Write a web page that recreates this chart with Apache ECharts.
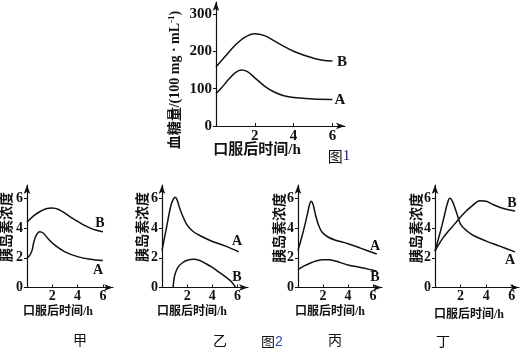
<!DOCTYPE html>
<html>
<head>
<meta charset="utf-8">
<script src="https://cdn.jsdelivr.net/npm/echarts@6.0.0/dist/echarts.min.js"></script>
<style>
  html, body { margin: 0; padding: 0; background: #fff; }
  #chart { width: 520px; height: 348px; }
</style>
</head>
<body>
<div id="chart"></div>
<script>
// 图1: blood glucose after oral glucose, [hours, 100 mg/mL]
const glucoseA = [[0,87],[0.3,103],[0.65,125],[1,143],[1.3,150],[1.6,146],[2,129],[2.5,107],[3,91],[3.5,81],[4,76],[5,72],[6,71]];
const glucoseB = [[0,158],[0.5,188],[1,217],[1.5,238],[2,247],[2.5,242],[3,228],[3.5,213],[4,200],[4.5,190],[5,182],[5.5,176],[6,174]];

// 图2: insulin concentration, four cases
const jiaA  = [[0,2.0],[0.2,2.15],[0.4,2.5],[0.55,3.1],[0.75,3.55],[1.0,3.75],[1.3,3.65],[1.7,3.25],[2.2,2.85],[3,2.4],[4,2.08],[5,1.9],[6,1.82]];
const jiaB  = [[0,4.4],[0.5,4.8],[1,5.1],[1.5,5.3],[2,5.35],[2.5,5.25],[3,5.0],[3.5,4.7],[4,4.45],[4.5,4.2],[5,4.0],[5.5,3.85],[6,3.75]];
const yiA   = [[0,2.5],[0.35,4.0],[0.7,5.5],[0.9,5.95],[1.05,6.08],[1.2,5.9],[1.4,5.35],[1.6,4.9],[2,4.2],[2.5,3.75],[3,3.5],[4,3.1],[5,2.8],[6.1,2.4]];
const yiB   = [[0.88,0],[0.95,0.55],[1.05,0.95],[1.3,1.4],[1.6,1.65],[2,1.83],[2.5,1.9],[3,1.82],[3.5,1.6],[4,1.35],[4.5,1.05],[5,0.75],[5.5,0.4],[5.85,0]];
const bingA = [[0,2.5],[0.4,3.7],[0.7,4.75],[0.9,5.5],[1.05,5.8],[1.2,5.6],[1.4,4.9],[1.6,4.3],[1.9,3.75],[2.4,3.4],[3,3.18],[4,2.95],[5,2.65],[6.3,2.25]];
const bingB = [[0,1.2],[0.5,1.45],[1,1.65],[1.5,1.8],[2,1.87],[2.5,1.87],[3,1.78],[4,1.52],[5,1.35],[5.7,1.22],[6.3,1.1]];
const dingA = [[0,2.45],[0.4,3.7],[0.75,4.9],[0.95,5.6],[1.15,6.0],[1.3,5.9],[1.5,5.5],[1.7,5.0],[2,4.25],[2.5,3.8],[3,3.5],[4,3.12],[5,2.8],[6.25,2.4]];
const dingB = [[0,2.45],[0.3,2.9],[0.65,3.37],[1,3.75],[1.3,4.04],[1.7,4.45],[2.1,4.85],[2.5,5.2],[2.9,5.5],[3.5,5.84],[4,5.8],[4.5,5.6],[5,5.42],[5.5,5.28],[6.25,5.15]];

const glucoseTicks = [0, 100, 200, 300];
const insulinTicks = [0, 2, 4, 6];
const timeTicks = [2, 4, 6];

const SERIF = '"Liberation Serif", "Times New Roman", "Noto Sans CJK SC", serif';
const INK = '#111';

// panel boxes: left/top/width/height in px, and axis extents
const panels = [
  { left: 216, top: 2,   width: 129, height: 124, xMax: 6.65, yMax: 332, ticks: glucoseTicks, data: [glucoseA, glucoseB] },
  { left: 27,  top: 185, width: 86,  height: 102.5, xMax: 6.8,  yMax: 6.9, ticks: insulinTicks, data: [jiaA, jiaB] },
  { left: 162, top: 185, width: 86,  height: 102.5, xMax: 6.83, yMax: 6.9, ticks: insulinTicks, data: [yiA, yiB] },
  { left: 298, top: 185, width: 84,  height: 102.5, xMax: 6.72, yMax: 6.9, ticks: insulinTicks, data: [bingA, bingB] },
  { left: 435, top: 185, width: 84,  height: 102.5, xMax: 6.56, yMax: 6.9, ticks: insulinTicks, data: [dingA, dingB] }
];

const axisLine = { show: true, symbol: ['none', 'arrow'], symbolSize: [5, 9], lineStyle: { color: INK, width: 1.2 } };

const grid = [], xAxis = [], yAxis = [], series = [];
panels.forEach((p, i) => {
  const tickFont = i === 0 ? 15 : 14;
  grid.push({ left: p.left, top: p.top, width: p.width, height: p.height, containLabel: false, outerBoundsMode: 'none' });
  xAxis.push({
    type: 'value', gridIndex: i, min: 0, max: p.xMax,
    axisLine: axisLine,
    axisTick: { show: true, inside: true, length: 3, customValues: timeTicks, lineStyle: { color: INK } },
    axisLabel: { customValues: timeTicks, margin: i === 0 ? 3 : 2, color: INK, fontFamily: SERIF, fontWeight: 'bold', fontSize: tickFont },
    splitLine: { show: false }
  });
  yAxis.push({
    type: 'value', gridIndex: i, min: 0, max: p.yMax,
    axisLine: axisLine,
    axisTick: { show: true, inside: false, length: 3, customValues: p.ticks, lineStyle: { color: INK } },
    axisLabel: { customValues: p.ticks, margin: 4, color: INK, fontFamily: SERIF, fontWeight: 'bold', fontSize: tickFont },
    splitLine: { show: false }
  });
  p.data.forEach(d => {
    series.push({
      type: 'line', xAxisIndex: i, yAxisIndex: i, data: d,
      smooth: 0.35, symbol: 'none', silent: true,
      lineStyle: { color: INK, width: 1.5 }
    });
  });
});

function txt(x, y, text, size, opts) {
  return Object.assign({
    type: 'text', x: x, y: y, silent: true,
    style: Object.assign({ text: text, x: 0, y: 0, align: 'center', verticalAlign: 'middle',
      fill: INK, fontSize: size, fontFamily: SERIF }, (opts && opts.style) || {})
  }, (opts && opts.el) || {});
}

const boldStyle = { style: { fontWeight: 'bold' } };
const vName = { el: { rotation: Math.PI / 2 }, style: { fontWeight: 'bold' } };

const graphic = [
  // axis titles
  txt(175, 80, '血糖量/(100 mg · mL{s|-1})', 14, { el: { rotation: Math.PI / 2 }, style: { fontWeight: 'bold', rich: { s: { fontSize: 9, fontFamily: SERIF, fontWeight: 'bold', padding: [0, 0, 7, 0] } } } }),
  txt(257, 150, '口服后时间/h', 15, boldStyle),
  txt(7, 227, '胰岛素浓度', 14, vName),
  txt(143, 227, '胰岛素浓度', 14, vName),
  txt(280, 228, '胰岛素浓度', 14, vName),
  txt(417, 228, '胰岛素浓度', 14, vName),
  txt(58, 312, '口服后时间/h', 12, boldStyle),
  txt(192, 312, '口服后时间/h', 12, boldStyle),
  txt(330, 312, '口服后时间/h', 12, boldStyle),
  txt(469, 315, '口服后时间/h', 12, boldStyle),
  // curve labels
  txt(342, 62, 'B', 15, boldStyle), txt(340, 100, 'A', 15, boldStyle),
  txt(100, 223, 'B', 14, boldStyle), txt(98, 270, 'A', 14, boldStyle),
  txt(237, 241, 'A', 14, boldStyle), txt(237, 277, 'B', 14, boldStyle),
  txt(375, 246, 'A', 14, boldStyle), txt(375, 277, 'B', 14, boldStyle),
  txt(512, 203, 'B', 14, boldStyle), txt(510, 260, 'A', 14, boldStyle),
  // figure captions
  txt(339, 156, '{a|图}{b|1}', 15, { style: { rich: { a: { fontSize: 15, fontFamily: '"Noto Sans CJK SC"', fill: INK }, b: { fontSize: 15, fontFamily: SERIF, fill: '#1a1a6e' } } } }),
  txt(272, 342, '{a|图}{b|2}', 14, { style: { rich: { a: { fontSize: 14, fontFamily: '"Noto Sans CJK SC"', fill: INK }, b: { fontSize: 14, fontFamily: '"Liberation Sans", sans-serif', fill: '#2a4bb0' } } } }),
  txt(80, 340, '甲', 14, { style: { fontFamily: '"Noto Sans CJK SC"' } }),
  txt(220, 341, '乙', 14, { style: { fontFamily: '"Noto Sans CJK SC"' } }),
  txt(335, 340, '丙', 14, { style: { fontFamily: '"Noto Sans CJK SC"' } }),
  txt(443, 341, '丁', 14, { style: { fontFamily: '"Noto Sans CJK SC"' } })
];

const chart = echarts.init(document.getElementById('chart'), null, { renderer: 'canvas' });
chart.setOption({
  animation: false,
  backgroundColor: '#fff',
  grid: grid, xAxis: xAxis, yAxis: yAxis, series: series,
  graphic: graphic
});
</script>
</body>
</html>
